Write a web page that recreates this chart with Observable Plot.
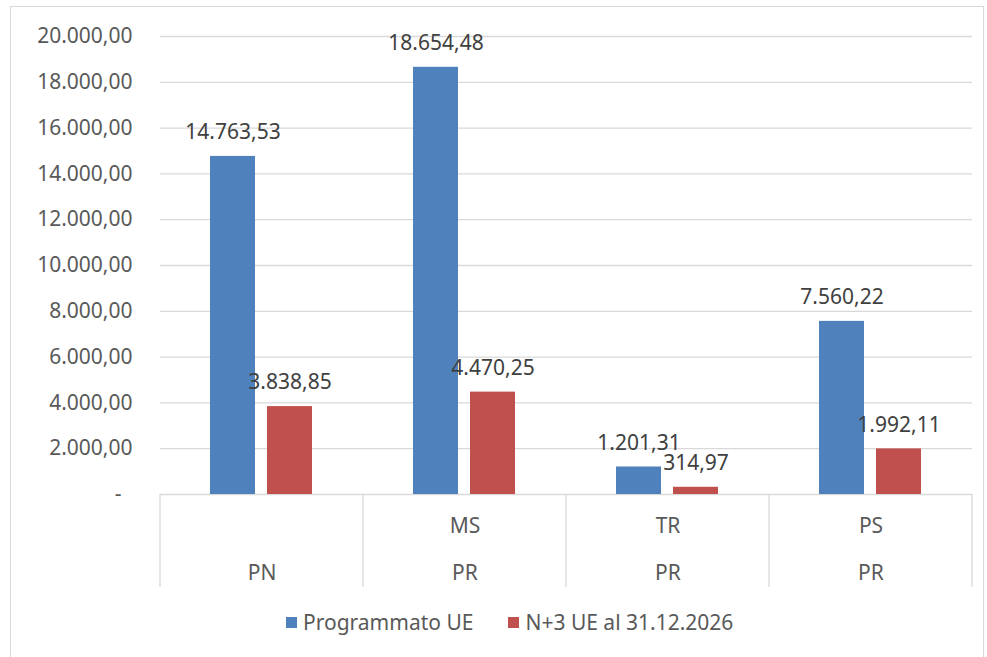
<!DOCTYPE html>
<html>
<head>
<meta charset="utf-8">
<script src="https://cdn.jsdelivr.net/npm/d3@7"></script>
<script src="https://cdn.jsdelivr.net/npm/@observablehq/plot@0.6"></script>
<style>
  html, body { margin: 0; padding: 0; background: #fff; }
  #wrap { position: relative; width: 987px; height: 657px; overflow: hidden; font-family: "Noto Sans", sans-serif; }
  #border { position: absolute; left: 10px; top: 6px; width: 974px; height: 660px; border: 1px solid #d9d9d9; box-sizing: border-box; }
  #chart { position: absolute; left: 0; top: 0; }
  #legend { position: absolute; left: 286px; top: 608px; display: flex; align-items: center; font-size: 21px; color: #595959; white-space: nowrap; }
  .sw { display: inline-block; width: 11px; height: 11px; margin-right: 6px; }
  .item { display: flex; align-items: center; margin-right: 35px; }
</style>
</head>
<body>
<div id="wrap">
  <div id="border"></div>
  <div id="chart"></div>
  <div id="legend"></div>
</div>
<script>
// ---- data ----
const categories = ["PN", "PR-MS", "PR-TR", "PR-PS"];
const level1 = ["", "MS", "TR", "PS"];
const level2 = ["PN", "PR", "PR", "PR"];
const series = ["Programmato UE", "N+3 UE al 31.12.2026"];
const programmatoUE = [14763.53, 18654.48, 1201.31, 7560.22];
const n3UE = [3838.85, 4470.25, 314.97, 1992.11];
const yTicks = [0, 2000, 4000, 6000, 8000, 10000, 12000, 14000, 16000, 18000, 20000];
const colors = ["#4F81BD", "#C0504D"];

const rows = [];
categories.forEach((c, i) => {
  rows.push({cat: c, series: series[0], value: programmatoUE[i]});
  rows.push({cat: c, series: series[1], value: n3UE[i]});
});

const loc = d3.formatLocale({decimal: ",", thousands: ".", grouping: [3], currency: ["", ""]});
const fmt = loc.format(",.2f");
const yFmt = d => d === 0 ? "-\u00a0\u00a0" : fmt(d);
const l1 = Object.fromEntries(categories.map((c, i) => [c, level1[i]]));
const l2 = Object.fromEntries(categories.map((c, i) => [c, level2[i]]));

const textColor = "#595959";
const fs = 21;
const chart = Plot.plot({
  width: 987,
  height: 600,
  marginLeft: 158,
  marginRight: 14,
  marginTop: 36,
  marginBottom: 106,
  style: {fontFamily: "Noto Sans, sans-serif", fontSize: fs + "px", color: textColor, background: "transparent"},
  fx: {domain: categories, padding: 0, label: null, axis: null},
  x: {domain: series, paddingInner: 0.207, paddingOuter: 0.862, axis: null},
  y: {domain: [0, 20000], label: null},
  color: {domain: series, range: colors},
  marks: [
    Plot.gridY(yTicks, {stroke: "#d9d9d9", strokeOpacity: 1, strokeWidth: 1.3}),
    Plot.axisY(yTicks, {tickSize: 0, tickPadding: 28, tickFormat: yFmt, fill: textColor, fontSize: fs}),
    Plot.barY(rows, {fx: "cat", x: "series", y: "value", fill: "series"}),
    Plot.text(rows, {fx: "cat", x: "series", y: "value", text: d => fmt(d.value), dy: -24, fill: "#404040", fontSize: fs}),
    Plot.axisFx({anchor: "bottom", tickSize: 0, tickPadding: 24, tickFormat: d => l1[d], fill: textColor, fontSize: fs, label: null}),
    Plot.axisFx({anchor: "bottom", tickSize: 0, tickPadding: 71, tickFormat: d => l2[d], fill: textColor, fontSize: fs, label: null})
  ]
});
document.getElementById("chart").appendChild(chart);

// category separators using the library's scales
const fxs = chart.scale("fx");
const ys = chart.scale("y");
const y0 = ys.apply(0);
const edges = categories.map(c => fxs.apply(c)).concat([fxs.apply(categories[categories.length - 1]) + fxs.bandwidth]);
const svg = d3.select(chart.tagName.toLowerCase() === "svg" ? chart : chart.querySelector("svg"));
svg.append("g").selectAll("line").data(edges).join("line")
  .attr("x1", d => d).attr("x2", d => d)
  .attr("y1", y0).attr("y2", y0 + 93)
  .attr("stroke", "#d9d9d9").attr("stroke-width", 1.3);

// legend
const legend = document.getElementById("legend");
series.forEach((s, i) => {
  const it = document.createElement("div");
  it.className = "item";
  it.innerHTML = `<span class="sw" style="background:${colors[i]}"></span><span>${s}</span>`;
  legend.appendChild(it);
});
</script>
</body>
</html>
